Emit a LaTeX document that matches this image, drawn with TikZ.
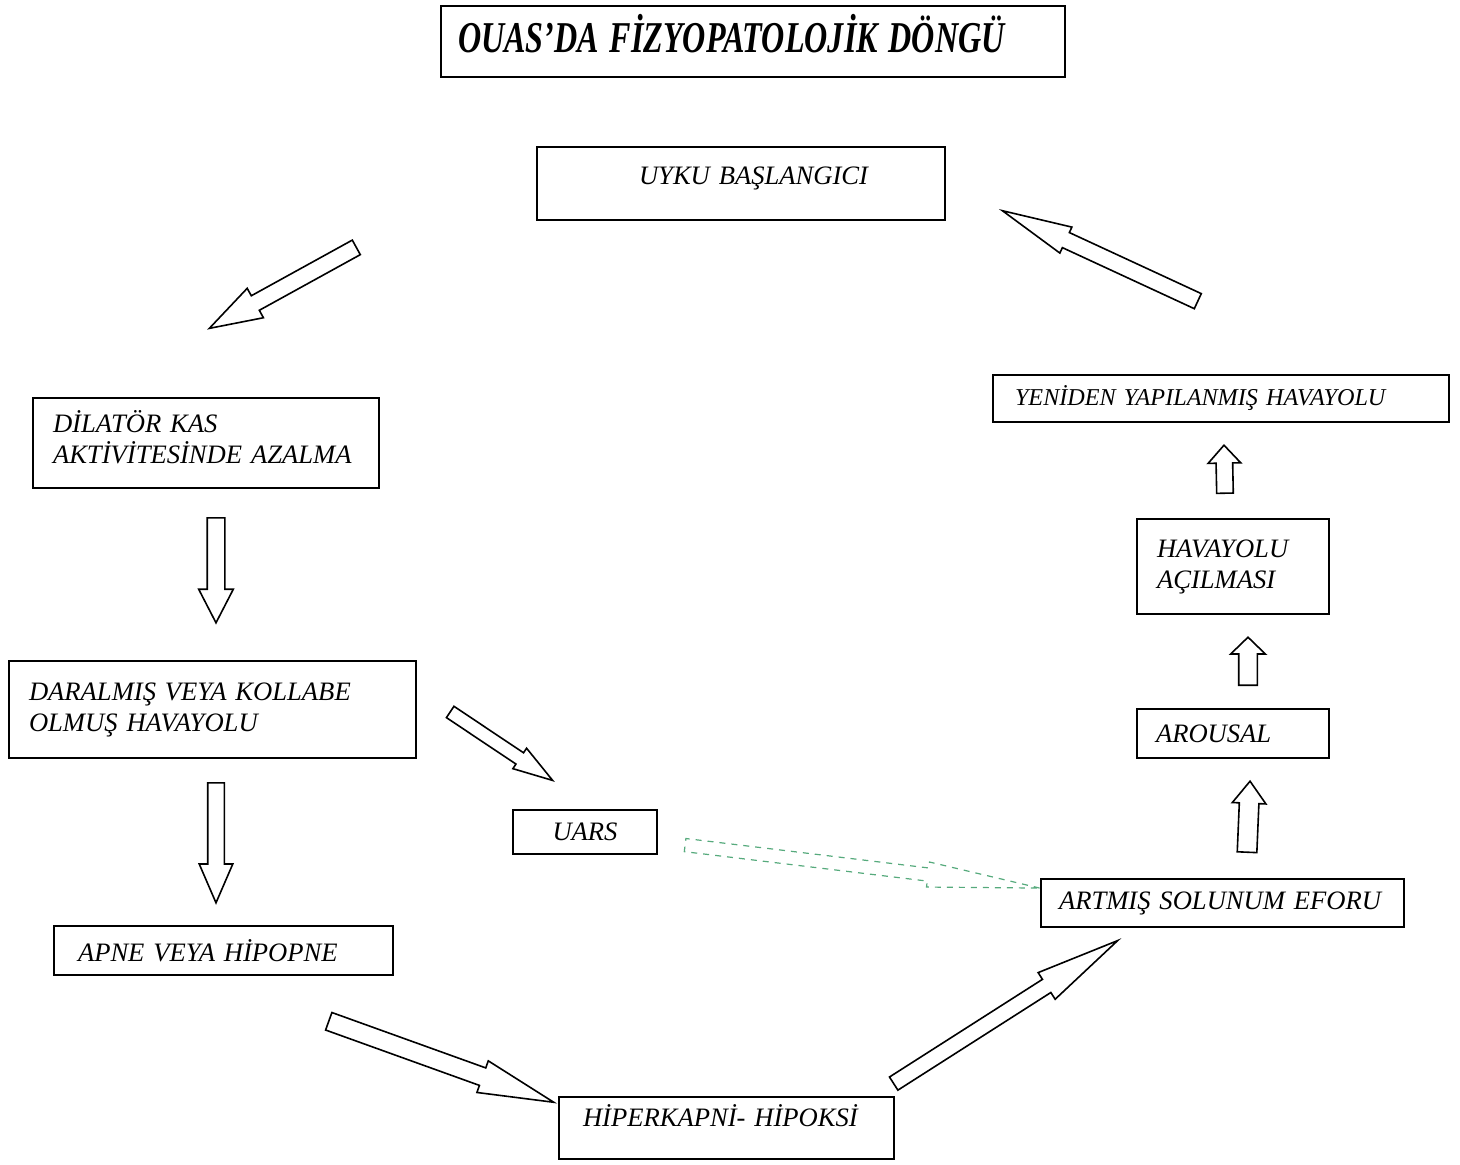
\documentclass[tikz,border=0pt]{standalone}
\usepackage{fontspec}
\setmainfont{Liberation Serif}
\usetikzlibrary{shapes.arrows,calc}
\definecolor{uarsgreen}{RGB}{86,170,124}

\tikzset{
  box/.style={draw, line width=1pt, anchor=north west, align=left, inner ysep=0pt,
    font=\fontsize{13.3}{15.5}\selectfont\itshape},
  fat/.style={single arrow, draw, line width=0.8pt, anchor=tail, inner xsep=0pt, minimum width=0pt},
}

% block arrow: [opts]{tail}{tip}{shaft}{head}{head length}, sizes in px
\newcommand{\fatarrow}[6][]{%
  \pgfmathsetmacro\shafthalf{#4/4}%
  \pgfmathsetmacro\headext{(#5-#4)/4}%
  \pgfmathsetmacro\tipang{2*atan((#5/2)/#6)}%
  \path let \p1=(#2), \p2=(#3), \n1={atan2(\y2-\y1,\x2-\x1)}, \n2={veclen(\x2-\x1,\y2-\y1)} in
    node[fat, #1, rotate=\n1, minimum height=\n2, inner ysep=\shafthalf pt,
      single arrow head extend=\headext pt, single arrow tip angle=\tipang] at (\p1) {};
}

\begin{document}
\begin{tikzpicture}[x=0.5pt,y=-0.5pt]
		\useasboundingbox (0,0) rectangle (1460,1165);
		
		\node[box, inner xsep=8.5pt, text width=295pt, minimum height=35.5pt, text depth=8pt,
		  font=\fontsize{22}{26}\selectfont\bfseries\itshape] (title) at (440,5) {\scalebox{0.73}[1]{OUAS’DA FİZYOPATOLOJİK DÖNGÜ}};
		
		\node[box, inner xsep=36pt, text width=132pt, minimum height=36.5pt, text depth=8pt] (uyku) at (536,146) {\hspace*{15pt}UYKU BAŞLANGICI};
		\node[box, inner xsep=10pt, text width=153pt, minimum height=45pt, text depth=21.5pt] (dilator) at (32,397) {DİLATÖR KAS\\AKTİVİTESİNDE AZALMA};
		\node[box, inner xsep=10pt, text width=183.5pt, minimum height=48.5pt] (daral) at (8,660) {DARALMIŞ VEYA KOLLABE\\OLMUŞ HAVAYOLU};
		\node[box, inner xsep=0pt, text width=72pt, align=center, minimum height=22pt] (uars) at (512,809) {UARS};
		\node[box, inner xsep=12pt, text width=145.5pt, minimum height=24.5pt] (apne) at (53,925) {APNE VEYA HİPOPNE};
		\node[box, inner xsep=12pt, text width=143.5pt, minimum height=31pt, text depth=12pt] (hiper) at (558,1096) {HİPERKAPNİ- HİPOKSİ};
		\node[box, inner xsep=9pt, text width=163.5pt, minimum height=24pt] (artmis) at (1040,878) {ARTMIŞ SOLUNUM EFORU};
		\node[box, inner xsep=9.5pt, text width=77pt, minimum height=24.5pt] (arousal) at (1136,708) {AROUSAL};
		\node[box, inner xsep=10pt, text width=76pt, minimum height=47.5pt] (acilma) at (1136,518) {HAVAYOLU\\AÇILMASI};
		\node[box, inner xsep=11pt, text width=206pt, minimum height=23.5pt,
		  font=\fontsize{12.1}{14}\selectfont\itshape] (yeniden) at (992,374) {YENİDEN YAPILANMIŞ HAVAYOLU};
		
		% arrow ends
		\coordinate (uyku out) at (357,247);   \coordinate (dilator in) at (210,328);
		\coordinate (dilator out) at (216,517); \coordinate (daral in) at (216,622);
		\coordinate (daral out) at (216,782);   \coordinate (apne in) at (216,902);
		\coordinate (daral side) at (449.5,711.5); \coordinate (uars in) at (552,780);
		\coordinate (uars out) at (684.5,845);  \coordinate (artmis side) at (1039,888);
		\coordinate (apne out) at (328,1021);   \coordinate (hiper in) at (553,1102);
		\coordinate (hiper out) at (893,1084);  \coordinate (artmis in) at (1117,941);
		\coordinate (artmis out) at (1247,853); \coordinate (arousal in) at (1250,782);
		\coordinate (arousal out) at (1248,686); \coordinate (acilma in) at (1248,638);
		\coordinate (acilma out) at (1225,494); \coordinate (yeniden in) at (1224,446);
		\coordinate (yeniden out) at (1198.5,301.5); \coordinate (uyku in) at (1003,211);
		
		\fatarrow{uyku out}{dilator in}{15}{32}{50}
		\fatarrow{dilator out}{daral in}{16}{33}{32}
		\fatarrow{daral out}{apne in}{15}{32}{37}
		\fatarrow{daral side}{uars in}{12}{23}{37}
		\fatarrow[draw=uarsgreen, dashed, line width=0.6pt]{uars out}{artmis side}{12}{24}{107}
		\fatarrow{apne out}{hiper in}{17}{32}{72}
		\fatarrow{hiper out}{artmis in}{14}{30}{80}
		\fatarrow{artmis out}{arousal in}{18}{32}{21}
		\fatarrow{arousal out}{acilma in}{17}{33}{16}
		\fatarrow{acilma out}{yeniden in}{15}{31}{17}
		\fatarrow{yeniden out}{uyku in}{15}{27}{66}
		
\end{tikzpicture}
\end{document}
